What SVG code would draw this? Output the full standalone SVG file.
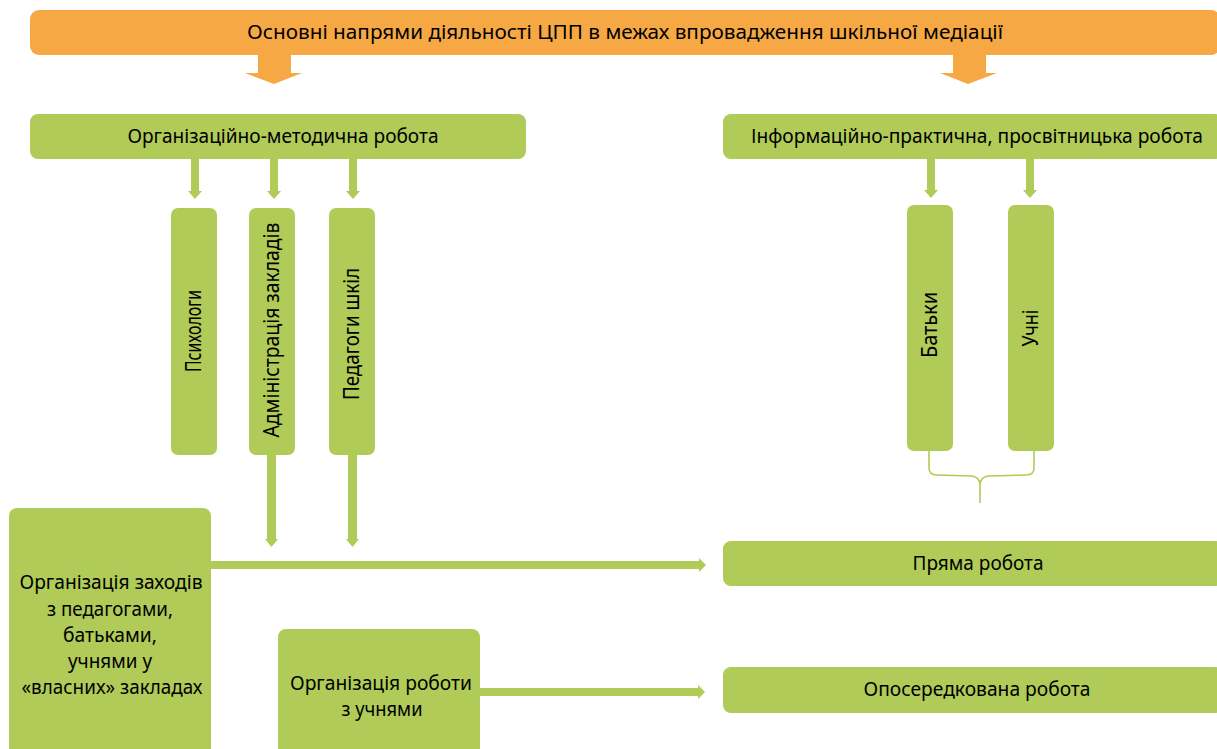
<svg xmlns="http://www.w3.org/2000/svg" width="1217" height="749" viewBox="0 0 1217 749">
<style>
.g{fill:#B0CB57}
.o{fill:#F5A843}
text{font-family:"Noto Sans","Open Sans",sans-serif;fill:#000;text-anchor:middle}
.t{font-size:19.5px}
.v{font-size:21.5px}
.big{font-size:20.5px}
.brace{fill:none;stroke:#B0CB57;stroke-width:1.6}
</style>
<rect width="1217" height="749" fill="#fff"/>
<g id="title">
<rect class="o" x="30" y="10" width="1190" height="45" rx="9"/>
<text class="big" x="625" y="39" textLength="756" lengthAdjust="spacingAndGlyphs">Основні напрями діяльності ЦПП в межах впровадження шкільної медіації</text>
</g>
<g id="orgmet">
<rect class="g" x="30" y="114" width="496" height="45" rx="8"/>
<text class="t" x="283" y="143" textLength="311" lengthAdjust="spacingAndGlyphs">Організаційно-методична робота</text>
</g>
<g id="infoprakt">
<rect class="g" x="723" y="114" width="500" height="45" rx="8"/>
<text class="t" x="977" y="143" textLength="452" lengthAdjust="spacingAndGlyphs">Інформаційно-практична, просвітницька робота</text>
</g>
<g id="psych">
<rect class="g" x="171" y="208" width="46" height="247" rx="7"/>
<text class="v" transform="translate(201,331) rotate(-90)" textLength="82" lengthAdjust="spacingAndGlyphs">Психологи</text>
</g>
<g id="admin">
<rect class="g" x="249" y="208" width="46" height="247" rx="7"/>
<text class="v" transform="translate(279,330) rotate(-90)" textLength="215" lengthAdjust="spacingAndGlyphs">Адміністрація закладів</text>
</g>
<g id="teachers">
<rect class="g" x="329" y="208" width="46" height="247" rx="7"/>
<text class="v" transform="translate(359,334) rotate(-90)" textLength="132" lengthAdjust="spacingAndGlyphs">Педагоги шкіл</text>
</g>
<g id="parents">
<rect class="g" x="907" y="205" width="46" height="246" rx="7"/>
<text class="v" transform="translate(937,325) rotate(-90)" textLength="66" lengthAdjust="spacingAndGlyphs">Батьки</text>
</g>
<g id="pupils">
<rect class="g" x="1008" y="205" width="46" height="246" rx="7"/>
<text class="v" transform="translate(1038,328) rotate(-90)" textLength="37" lengthAdjust="spacingAndGlyphs">Учні</text>
</g>
<g id="ownschools">
<rect class="g" x="9" y="508" width="202" height="260" rx="8"/>
<text class="t" x="111" y="589" textLength="183" lengthAdjust="spacingAndGlyphs">Організація заходів</text>
<text class="t" x="110" y="616" textLength="126" lengthAdjust="spacingAndGlyphs">з педагогами,</text>
<text class="t" x="110" y="642" textLength="94" lengthAdjust="spacingAndGlyphs">батьками,</text>
<text class="t" x="110" y="668" textLength="84" lengthAdjust="spacingAndGlyphs">учнями у</text>
<text class="t" x="112" y="694" textLength="181" lengthAdjust="spacingAndGlyphs">«власних» закладах</text>
</g>
<g id="workpupils">
<rect class="g" x="278" y="629" width="202" height="140" rx="8"/>
<text class="t" x="381" y="690" textLength="182" lengthAdjust="spacingAndGlyphs">Організація роботи</text>
<text class="t" x="382" y="716" textLength="81" lengthAdjust="spacingAndGlyphs">з учнями</text>
</g>
<g id="direct">
<rect class="g" x="723" y="541" width="500" height="45" rx="8"/>
<text class="t" x="978" y="570" textLength="131" lengthAdjust="spacingAndGlyphs">Пряма робота</text>
</g>
<g id="indirect">
<rect class="g" x="723" y="667" width="500" height="46" rx="8"/>
<text class="t" x="977" y="696" textLength="227" lengthAdjust="spacingAndGlyphs">Опосередкована робота</text>
</g>
<g id="connectors">
<polygon class="o" points="258,55 291,55 291,73 302,73 274,84 245,73 258,73"/>
<polygon class="o" points="953,55 986,55 986,73 997,73 968,84 940,73 953,73"/>
<polygon class="g" points="191,159 199,159 199,191 202,191 195,199 188,191 191,191"/>
<polygon class="g" points="270,159 278,159 278,191 281,191 274,199 267,191 270,191"/>
<polygon class="g" points="349,159 357,159 357,191 360,191 353,199 346,191 349,191"/>
<polygon class="g" points="927,159 935,159 935,190 938,190 931,198 924,190 927,190"/>
<polygon class="g" points="1026,159 1034,159 1034,190 1037,190 1030,198 1023,190 1026,190"/>
<polygon class="g" points="267,455 276,455 276,539 278,539 271.5,547 265,539 267,539"/>
<polygon class="g" points="348,455 357,455 357,539 359,539 352.5,547 346,539 348,539"/>
<polygon class="g" points="211,561 699,561 699,558 706,565 699,572 699,569 211,569"/>
<polygon class="g" points="480,688 698,688 698,685 705,692 698,699 698,696 480,696"/>
<path class="brace" d="M929,451 L929,468 Q929,475 937,475 L972,476 Q979,477 980,484 L980,503 M1034,451 L1034,468 Q1034,475 1026,475 L988,476 Q981,477 980,484"/>
</g>
</svg>
